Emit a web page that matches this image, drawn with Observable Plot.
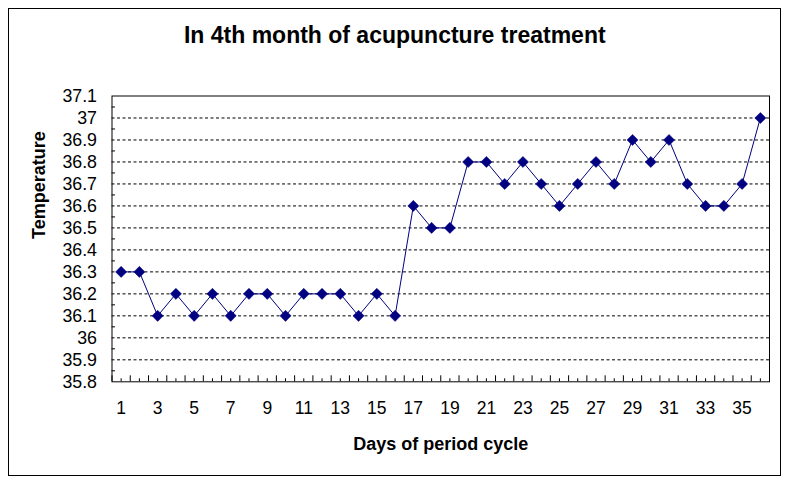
<!DOCTYPE html>
<html>
<head>
<meta charset="utf-8">
<script src="https://cdn.jsdelivr.net/npm/d3@7"></script>
<script src="https://cdn.jsdelivr.net/npm/@observablehq/plot@0.6"></script>
<style>
  html, body { margin: 0; padding: 0; background: #fff; }
  #wrap { position: relative; width: 789px; height: 483px; overflow: hidden; }
  #border { position: absolute; left: 8px; top: 8px; width: 771px; height: 466px; border: 1.5px solid #000; pointer-events: none; }
  svg { display: block; }
</style>
</head>
<body>
<div id="wrap"><div id="border"></div></div>
<script>
const title = "In 4th month of acupuncture treatment";
const xTitle = "Days of period cycle";
const yTitle = "Temperature";

const days = [1,2,3,4,5,6,7,8,9,10,11,12,13,14,15,16,17,18,19,20,21,22,23,24,25,26,27,28,29,30,31,32,33,34,35,36];
const temperature = [36.3,36.3,36.1,36.2,36.1,36.2,36.1,36.2,36.2,36.1,36.2,36.2,36.2,36.1,36.2,36.1,
  36.6,36.5,36.5,36.8,36.8,36.7,36.8,36.7,36.6,36.7,36.8,36.7,36.9,36.8,36.9,36.7,36.6,36.6,36.7,37.0];

const xTickLabels = [1,3,5,7,9,11,13,15,17,19,21,23,25,27,29,31,33,35];
const yTickLabels = [35.8,35.9,36.0,36.1,36.2,36.3,36.4,36.5,36.6,36.7,36.8,36.9,37.0,37.1];

const data = days.map((d, i) => ({day: d, temp: temperature[i]}));
const gridValues = yTickLabels.slice(1, -1);
const yMinor = yTickLabels.slice(0, -1).map((v, i) => (v + yTickLabels[i + 1]) / 2);
const xBoundaries = days.map(d => d - 0.5).concat([days[days.length - 1] + 0.5]);

const font = "'Liberation Sans', Arial, sans-serif";
const navy = "#000080";

const chart = Plot.plot({
  width: 789,
  height: 483,
  marginLeft: 111.5,
  marginRight: 20,
  marginTop: 95.5,
  marginBottom: 101.7,
  style: {fontFamily: font, background: "transparent", color: "#000", overflow: "visible"},
  x: {type: "linear", domain: [0.5, 36.5]},
  y: {type: "linear", domain: [35.8, 37.1]},
  marks: [
    Plot.ruleY(gridValues, {y: d => d, stroke: "#000", strokeWidth: 1, strokeDasharray: "3,2.5"}),
    Plot.axisY(yTickLabels, {tickSize: 0, tickPadding: 15, fontSize: 17.8, label: null, tickFormat: d => String(+d.toFixed(1))}),
    Plot.axisY(yMinor, {tickSize: 3.5, dx: 3.5, label: null, tickFormat: () => "", stroke: "#000"}),
    Plot.axisX(xBoundaries, {tickSize: 6, dy: -6, label: null, tickFormat: () => "", stroke: "#000"}),
    Plot.axisX(days, {tickSize: 3, dy: -3, label: null, tickFormat: () => "", stroke: "#000"}),
    Plot.axisX(xTickLabels, {tickSize: 0, tickPadding: 20, fontSize: 17.5, label: null}),
    Plot.frame({stroke: "#000", strokeWidth: 1}),
    Plot.line(data, {x: "day", y: "temp", stroke: navy, strokeWidth: 1}),
    Plot.dot(data, {x: "day", y: "temp", symbol: "diamond2", r: 5, fill: navy, stroke: navy, strokeWidth: 0.5}),
    Plot.text([title], {text: d => d, frameAnchor: "top", dx: -46, dy: -60, fontSize: 23, fontWeight: "bold", lineAnchor: "middle", fill: "#000"}),
    Plot.text([xTitle], {text: d => d, frameAnchor: "bottom", dy: 62, fontSize: 18, fontWeight: "bold", lineAnchor: "middle", fill: "#000"}),
    Plot.text([yTitle], {text: d => d, frameAnchor: "left", dx: -72.5, rotate: -90, fontSize: 18, fontWeight: "bold", lineAnchor: "middle", fill: "#000"})
  ]
});
document.getElementById("wrap").prepend(chart);
</script>
</body>
</html>
